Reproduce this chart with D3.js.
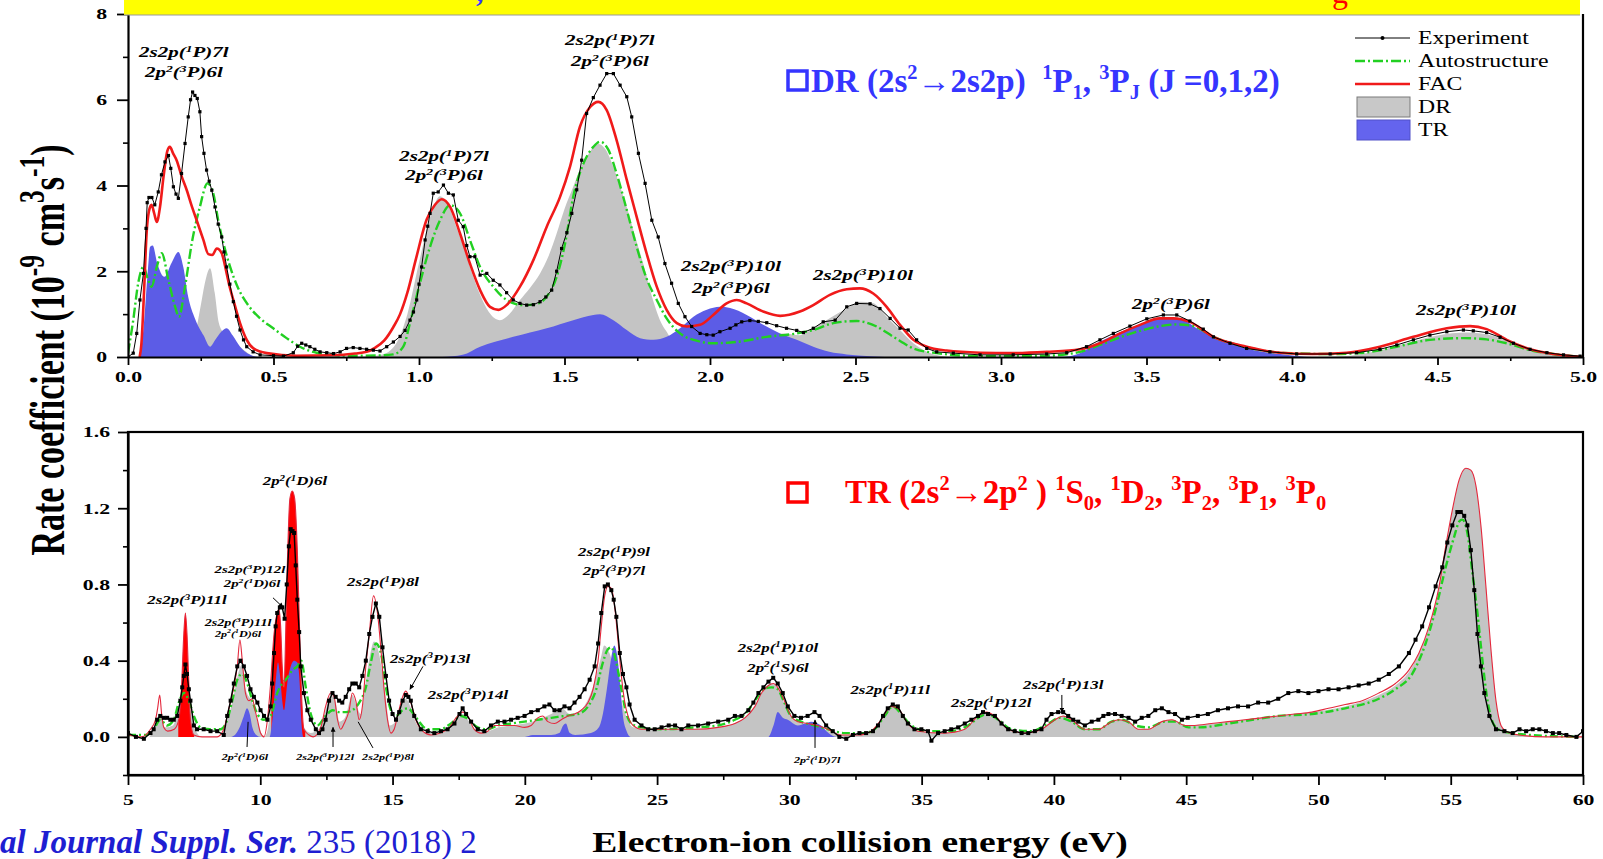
<!DOCTYPE html>
<html>
<head>
<meta charset="utf-8">
<script src="https://cdn.jsdelivr.net/npm/d3@7"></script>
<style>
  html, body { margin: 0; padding: 0; background: #fff; }
  svg { display: block; }
  text { font-family: "Liberation Serif", "Times New Roman", serif; white-space: pre; }
</style>
</head>
<body>
<svg id="chart" width="1603" height="859"></svg>
<script>
// ---------- Upper panel: 0-5 eV (DR, 2s^2 -> 2s2p) ----------
const topXTicks = [0, 0.5, 1, 1.5, 2, 2.5, 3, 3.5, 4, 4.5, 5];
const topXMinor = [0.25, 0.75, 1.25, 1.75, 2.25, 2.75, 3.25, 3.75, 4.25, 4.75];
const topYTicks = [0, 2, 4, 6, 8];
const topYMinor = [1, 3, 5, 7];

const topExperiment = [[0,0],[0.018,0.09],[0.03,0.55],[0.041,1.33],[0.053,1.95],[0.062,3.0],[0.066,3.6],[0.072,3.72],[0.082,3.72],[0.092,3.55],[0.104,3.85],[0.115,4.25],[0.127,4.55],[0.139,4.7],[0.147,4.4],[0.156,3.97],[0.165,3.8],[0.173,3.7],[0.184,4.28],[0.196,4.98],[0.207,5.6],[0.215,6.0],[0.222,6.18],[0.23,6.1],[0.238,6.03],[0.247,5.72],[0.253,5.14],[0.261,4.75],[0.27,4.36],[0.279,4.1],[0.288,3.89],[0.299,3.5],[0.31,3.1],[0.322,2.8],[0.33,2.45],[0.339,2.1],[0.35,1.7],[0.362,1.29],[0.373,0.95],[0.385,0.63],[0.397,0.4],[0.408,0.24],[0.43,0.12],[0.454,0.05],[0.5,0.03],[0.534,0.02],[0.568,0.1],[0.583,0.25],[0.597,0.32],[0.611,0.28],[0.625,0.24],[0.642,0.18],[0.66,0.12],[0.683,0.1],[0.706,0.08],[0.729,0.12],[0.751,0.2],[0.774,0.22],[0.797,0.2],[0.82,0.18],[0.843,0.16],[0.866,0.14],[0.889,0.24],[0.912,0.35],[0.935,0.48],[0.952,0.62],[0.969,0.86],[0.981,1.05],[0.992,1.33],[1.0,1.7],[1.009,2.1],[1.021,2.73],[1.03,3.05],[1.038,3.35],[1.049,3.82],[1.066,3.85],[1.084,4.01],[1.101,3.82],[1.118,3.78],[1.135,3.19],[1.152,3.04],[1.164,2.6],[1.175,2.34],[1.192,2.34],[1.21,1.91],[1.233,1.95],[1.255,1.79],[1.278,1.68],[1.301,1.5],[1.324,1.33],[1.347,1.25],[1.37,1.21],[1.393,1.22],[1.416,1.29],[1.436,1.4],[1.456,1.56],[1.473,2.0],[1.49,2.53],[1.508,2.9],[1.525,3.35],[1.542,3.9],[1.559,4.59],[1.576,5.68],[1.599,6.05],[1.622,6.34],[1.645,6.61],[1.668,6.61],[1.691,6.34],[1.714,6.07],[1.731,5.6],[1.754,4.75],[1.777,4.05],[1.8,3.19],[1.822,2.8],[1.845,2.18],[1.868,1.72],[1.891,1.25],[1.914,0.94],[1.937,0.71],[1.966,0.55],[1.989,0.52],[2.011,0.51],[2.034,0.59],[2.069,0.67],[2.089,0.75],[2.109,0.82],[2.137,0.85],[2.166,0.83],[2.195,0.8],[2.229,0.73],[2.263,0.67],[2.298,0.62],[2.321,0.57],[2.355,0.67],[2.389,0.82],[2.43,0.86],[2.47,1.17],[2.504,1.25],[2.55,1.24],[2.584,1.13],[2.619,0.9],[2.653,0.67],[2.681,0.63],[2.71,0.4],[2.745,0.2],[2.779,0.12],[2.836,0.09],[2.928,0.05],[3.042,0.05],[3.157,0.07],[3.226,0.1],[3.294,0.24],[3.34,0.4],[3.386,0.55],[3.443,0.72],[3.501,0.89],[3.558,0.98],[3.604,0.98],[3.649,0.84],[3.695,0.65],[3.73,0.47],[3.787,0.32],[3.844,0.2],[3.924,0.12],[4.016,0.07],[4.131,0.07],[4.222,0.1],[4.302,0.18],[4.36,0.28],[4.417,0.4],[4.474,0.51],[4.532,0.59],[4.589,0.63],[4.623,0.61],[4.669,0.57],[4.715,0.46],[4.761,0.32],[4.818,0.18],[4.876,0.1],[4.933,0.05],[4.99,0.02]];

const topFAC = [[0.04,0],[0.046,0.3],[0.055,1.5],[0.064,2.9],[0.072,3.4],[0.081,3.55],[0.09,3.35],[0.099,3.15],[0.11,3.5],[0.122,4.2],[0.135,4.8],[0.144,4.9],[0.155,4.75],[0.167,4.59],[0.185,4.2],[0.202,3.89],[0.22,3.5],[0.236,3.19],[0.259,2.73],[0.276,2.4],[0.29,2.38],[0.305,2.53],[0.322,2.42],[0.339,1.95],[0.35,1.62],[0.362,1.33],[0.385,0.79],[0.408,0.4],[0.431,0.2],[0.477,0.09],[0.58,0.03],[0.7,0.04],[0.78,0.08],[0.82,0.12],[0.85,0.22],[0.88,0.38],[0.912,0.7],[0.935,1.0],[0.96,1.5],[0.99,2.3],[1.026,3.2],[1.055,3.55],[1.078,3.68],[1.107,3.5],[1.141,2.88],[1.175,2.18],[1.21,1.56],[1.244,1.17],[1.273,1.1],[1.301,1.21],[1.347,1.64],[1.393,2.26],[1.439,3.04],[1.485,3.74],[1.519,4.44],[1.553,5.37],[1.588,5.83],[1.616,5.95],[1.645,5.76],[1.679,5.06],[1.714,4.13],[1.748,3.27],[1.782,2.42],[1.817,1.64],[1.851,1.1],[1.886,0.79],[1.92,0.71],[1.966,0.75],[2.011,0.98],[2.057,1.25],[2.092,1.33],[2.126,1.25],[2.183,1.06],[2.241,0.96],[2.309,1.06],[2.355,1.21],[2.412,1.45],[2.47,1.58],[2.515,1.6],[2.561,1.48],[2.607,1.17],[2.653,0.75],[2.699,0.4],[2.745,0.24],[2.813,0.15],[2.928,0.1],[3.04,0.09],[3.157,0.12],[3.271,0.18],[3.34,0.32],[3.409,0.55],[3.478,0.75],[3.546,0.9],[3.592,0.9],[3.649,0.82],[3.73,0.47],[3.844,0.24],[3.959,0.1],[4.07,0.07],[4.188,0.1],[4.302,0.24],[4.417,0.47],[4.532,0.67],[4.612,0.72],[4.669,0.65],[4.738,0.4],[4.818,0.18],[4.898,0.07],[5.0,0]];

const topAutostructure = [[0,0.09],[0.018,0.86],[0.035,1.72],[0.053,2.1],[0.067,1.85],[0.081,1.64],[0.099,2.1],[0.116,2.42],[0.139,1.79],[0.162,1.17],[0.175,0.94],[0.196,1.64],[0.219,2.65],[0.247,3.5],[0.273,4.05],[0.293,3.82],[0.31,3.19],[0.328,2.65],[0.351,2.1],[0.379,1.6],[0.413,1.21],[0.454,0.9],[0.499,0.67],[0.545,0.44],[0.591,0.24],[0.648,0.1],[0.763,0.03],[0.877,0.04],[0.912,0.06],[0.946,0.24],[0.969,0.79],[1.003,1.72],[1.038,2.57],[1.072,3.19],[1.107,3.54],[1.141,3.35],[1.175,2.73],[1.21,2.1],[1.255,1.64],[1.301,1.33],[1.358,1.21],[1.404,1.24],[1.439,1.41],[1.473,1.87],[1.502,2.65],[1.53,3.74],[1.565,4.51],[1.599,4.9],[1.622,5.02],[1.651,4.83],[1.679,4.28],[1.714,3.43],[1.748,2.57],[1.782,1.83],[1.817,1.33],[1.851,0.9],[1.897,0.55],[1.954,0.38],[2.011,0.32],[2.103,0.36],[2.195,0.47],[2.298,0.55],[2.355,0.63],[2.424,0.79],[2.504,0.84],[2.573,0.71],[2.63,0.47],[2.699,0.2],[2.779,0.09],[2.928,0.02],[3.157,0.03],[3.271,0.12],[3.34,0.28],[3.409,0.46],[3.478,0.61],[3.546,0.72],[3.604,0.76],[3.661,0.72],[3.73,0.47],[3.844,0.23],[3.959,0.1],[4.13,0.07],[4.245,0.1],[4.36,0.24],[4.474,0.4],[4.589,0.44],[4.669,0.41],[4.738,0.32],[4.818,0.16],[4.898,0.07],[5.0,0]];

const topDR = [[0,0],[0.2,0],[0.23,0.5],[0.25,1.2],[0.265,1.75],[0.282,2.07],[0.298,1.5],[0.312,0.8],[0.33,0.55],[0.36,0.4],[0.4,0.15],[0.44,0],[0.8,0],[0.87,0.05],[0.92,0.3],[0.96,1.0],[1.0,2.2],[1.04,3.3],[1.072,3.75],[1.1,3.55],[1.13,3.0],[1.152,2.6],[1.18,2.0],[1.21,1.45],[1.24,1.05],[1.278,0.86],[1.31,1.0],[1.347,1.33],[1.38,1.6],[1.416,1.95],[1.445,2.35],[1.473,2.88],[1.5,3.45],[1.53,3.97],[1.555,4.4],[1.576,4.66],[1.6,4.9],[1.616,4.97],[1.64,4.85],[1.668,4.43],[1.69,4.0],[1.714,3.5],[1.737,2.95],[1.76,2.42],[1.78,1.95],[1.794,1.56],[1.81,1.2],[1.828,0.86],[1.85,0.6],[1.863,0.47],[1.89,0.4],[1.95,0.3],[2.05,0.35],[2.15,0.45],[2.25,0.55],[2.309,0.51],[2.355,0.67],[2.41,0.9],[2.47,1.13],[2.515,1.29],[2.56,1.26],[2.607,0.94],[2.653,0.63],[2.699,0.32],[2.745,0.12],[2.79,0.03],[2.85,0],[3.2,0],[3.3,0.1],[3.4,0.4],[3.5,0.6],[3.6,0.65],[3.7,0.5],[3.8,0.25],[3.9,0.08],[4.0,0.02],[4.1,0],[4.2,0.03],[4.3,0.15],[4.4,0.33],[4.5,0.5],[4.6,0.57],[4.7,0.48],[4.8,0.22],[4.9,0.07],[5.0,0]];

const topTR = [[0,0],[0.04,0],[0.055,0.8],[0.068,2.0],[0.076,2.57],[0.085,2.6],[0.1,2.2],[0.125,1.87],[0.15,2.2],[0.173,2.45],[0.19,2.1],[0.207,1.4],[0.23,0.9],[0.26,0.5],[0.282,0.24],[0.3,0.4],[0.322,0.6],[0.339,0.67],[0.36,0.5],[0.385,0.24],[0.42,0.05],[0.45,0],[1.08,0],[1.15,0.05],[1.21,0.24],[1.324,0.47],[1.439,0.67],[1.53,0.86],[1.599,0.98],[1.622,1.0],[1.668,0.86],[1.714,0.63],[1.76,0.44],[1.806,0.4],[1.851,0.47],[1.897,0.67],[1.943,0.94],[1.989,1.1],[2.034,1.17],[2.069,1.14],[2.126,0.98],[2.183,0.75],[2.241,0.55],[2.298,0.4],[2.355,0.24],[2.41,0.12],[2.47,0.06],[2.55,0.02],[2.65,0],[3.2,0],[3.271,0.09],[3.328,0.32],[3.386,0.51],[3.443,0.67],[3.501,0.82],[3.558,0.9],[3.6,0.9],[3.63,0.85],[3.672,0.67],[3.73,0.47],[3.844,0.2],[3.96,0.07],[4.07,0],[5.0,0]];

// ---------- Lower panel: 5-60 eV (TR, 2s^2 -> 2p^2) ----------
const botXTicks = [5, 10, 15, 20, 25, 30, 35, 40, 45, 50, 55, 60];
const botXMinor = [7.5, 12.5, 17.5, 22.5, 27.5, 32.5, 37.5, 42.5, 47.5, 52.5, 57.5];
const botYTicks = [0, 0.4, 0.8, 1.2, 1.6];
const botYMinor = [-0.2, 0.2, 0.6, 1.0, 1.4];

const botExperiment = [[5.0,0.02],[5.3,0.0],[5.6,-0.01],[5.85,0.02],[5.97,0.04],[6.1,0.09],[6.22,0.11],[6.35,0.1],[6.48,0.1],[6.6,0.09],[6.73,0.09],[6.86,0.11],[6.98,0.19],[7.05,0.26],[7.11,0.32],[7.17,0.38],[7.23,0.33],[7.3,0.25],[7.36,0.19],[7.49,0.06],[7.61,0.04],[7.86,0.04],[8.12,0.03],[8.37,0.03],[8.62,0.01],[8.75,0.11],[8.88,0.19],[9.0,0.28],[9.13,0.37],[9.25,0.4],[9.38,0.37],[9.5,0.32],[9.63,0.25],[9.76,0.21],[9.89,0.18],[10.01,0.14],[10.14,0.11],[10.27,0.09],[10.39,0.16],[10.45,0.28],[10.52,0.44],[10.58,0.58],[10.64,0.65],[10.74,0.68],[10.83,0.68],[10.92,0.62],[11.0,0.8],[11.08,1.0],[11.15,1.09],[11.22,1.08],[11.28,1.07],[11.34,0.9],[11.4,0.72],[11.47,0.55],[11.53,0.37],[11.65,0.23],[11.78,0.14],[11.91,0.09],[12.1,0.04],[12.22,0.02],[12.35,0.04],[12.47,0.09],[12.6,0.19],[12.73,0.23],[12.85,0.21],[12.98,0.19],[13.1,0.18],[13.23,0.21],[13.36,0.25],[13.48,0.28],[13.61,0.28],[13.74,0.26],[13.86,0.32],[13.99,0.4],[14.12,0.54],[14.24,0.63],[14.37,0.7],[14.5,0.63],[14.62,0.47],[14.75,0.32],[14.87,0.19],[15.0,0.12],[15.13,0.09],[15.25,0.13],[15.38,0.19],[15.5,0.22],[15.6,0.21],[15.69,0.19],[15.82,0.11],[16.07,0.04],[16.33,0.03],[16.58,0.02],[16.83,0.03],[17.08,0.04],[17.34,0.07],[17.53,0.12],[17.65,0.15],[17.78,0.12],[17.97,0.08],[18.22,0.04],[18.47,0.03],[18.72,0.06],[18.98,0.08],[19.23,0.08],[19.48,0.09],[19.73,0.1],[19.99,0.11],[20.24,0.13],[20.49,0.14],[20.74,0.16],[20.93,0.17],[21.12,0.14],[21.31,0.14],[21.5,0.16],[21.69,0.15],[21.88,0.18],[22.07,0.21],[22.26,0.25],[22.45,0.3],[22.64,0.37],[22.77,0.49],[22.89,0.65],[23.02,0.79],[23.14,0.8],[23.27,0.77],[23.36,0.72],[23.46,0.63],[23.59,0.44],[23.71,0.33],[23.84,0.26],[23.96,0.17],[24.15,0.09],[24.41,0.06],[24.66,0.04],[24.91,0.04],[25.17,0.05],[25.44,0.06],[25.68,0.06],[25.92,0.04],[26.18,0.06],[26.55,0.06],[26.93,0.07],[27.31,0.08],[27.69,0.09],[27.94,0.11],[28.19,0.11],[28.45,0.14],[28.64,0.18],[28.83,0.23],[29.02,0.26],[29.21,0.29],[29.39,0.31],[29.56,0.28],[29.75,0.23],[29.94,0.16],[30.19,0.11],[30.44,0.1],[30.69,0.11],[30.95,0.13],[31.14,0.11],[31.39,0.06],[31.64,0.03],[31.89,0.0],[32.15,-0.01],[32.4,0.01],[32.65,0.02],[32.9,0.02],[33.16,0.03],[33.35,0.06],[33.54,0.11],[33.72,0.15],[33.91,0.17],[34.1,0.16],[34.29,0.11],[34.48,0.07],[34.73,0.04],[34.99,0.04],[35.24,0.03],[35.37,-0.02],[35.62,0.02],[35.87,0.03],[36.12,0.04],[36.38,0.05],[36.63,0.07],[36.88,0.09],[37.13,0.11],[37.32,0.13],[37.51,0.12],[37.77,0.11],[38.02,0.07],[38.27,0.04],[38.52,0.03],[38.78,0.02],[39.03,0.02],[39.28,0.03],[39.53,0.04],[39.72,0.09],[39.91,0.12],[40.16,0.13],[40.35,0.13],[40.54,0.11],[40.73,0.09],[40.92,0.08],[41.17,0.06],[41.43,0.08],[41.68,0.09],[41.87,0.11],[42.06,0.12],[42.31,0.12],[42.56,0.11],[42.82,0.1],[43.07,0.08],[43.32,0.1],[43.57,0.11],[43.83,0.14],[44.08,0.15],[44.33,0.13],[44.58,0.12],[44.84,0.09],[45.06,0.1],[45.44,0.11],[45.82,0.12],[46.2,0.14],[46.58,0.15],[46.96,0.16],[47.34,0.16],[47.72,0.18],[48.1,0.18],[48.48,0.2],[48.86,0.23],[49.24,0.24],[49.62,0.23],[50.0,0.24],[50.38,0.25],[50.76,0.25],[51.14,0.26],[51.52,0.27],[51.9,0.28],[52.28,0.3],[52.66,0.33],[53.04,0.37],[53.42,0.44],[53.67,0.51],[53.92,0.58],[54.18,0.68],[54.43,0.79],[54.68,0.89],[54.87,1.02],[55.06,1.11],[55.25,1.18],[55.38,1.18],[55.51,1.16],[55.63,1.11],[55.76,0.98],[55.89,0.77],[56.01,0.54],[56.14,0.37],[56.27,0.23],[56.46,0.11],[56.71,0.04],[57.03,0.03],[57.34,0.02],[57.6,0.04],[57.85,0.03],[58.1,0.04],[58.35,0.04],[58.6,0.03],[58.86,0.02],[59.1,0.02],[59.37,0.01],[59.75,0.0],[60.0,0.03]];

const botFAC = [[5.0,0.01],[5.5,0],[5.85,0.04],[6.04,0.09],[6.12,0.15],[6.2,0.22],[6.27,0.12],[6.35,0.05],[6.5,0.03],[6.75,0.04],[6.92,0.09],[7.02,0.25],[7.11,0.54],[7.17,0.65],[7.23,0.54],[7.3,0.28],[7.36,0.09],[7.49,0.01],[7.8,0],[8.37,0],[8.62,0.04],[8.75,0.11],[8.88,0.19],[9.0,0.26],[9.13,0.37],[9.23,0.51],[9.32,0.4],[9.44,0.23],[9.57,0.19],[9.7,0.2],[9.8,0.14],[9.89,0.09],[10.01,0.02],[10.14,0],[10.27,0.09],[10.39,0.28],[10.52,0.54],[10.64,0.65],[10.71,0.67],[10.77,0.58],[10.83,0.37],[10.9,0.26],[10.96,0.54],[11.02,0.89],[11.12,1.25],[11.21,1.29],[11.3,1.25],[11.4,0.98],[11.49,0.54],[11.57,0.19],[11.65,0.04],[11.84,0.01],[12.0,0],[12.29,0.05],[12.47,0.16],[12.66,0.23],[12.79,0.21],[12.92,0.09],[13.04,0.04],[13.17,0.07],[13.36,0.14],[13.48,0.23],[13.61,0.19],[13.74,0.09],[13.86,0.16],[13.99,0.37],[14.12,0.54],[14.28,0.74],[14.43,0.65],[14.56,0.46],[14.68,0.25],[14.81,0.09],[14.94,0.02],[15.06,0.04],[15.19,0.11],[15.38,0.21],[15.5,0.24],[15.69,0.18],[15.88,0.09],[16.14,0.03],[16.45,0.01],[16.8,0.02],[17.15,0.05],[17.4,0.1],[17.65,0.13],[17.84,0.11],[18.09,0.04],[18.35,0.02],[18.6,0.03],[18.85,0.06],[19.23,0.06],[19.61,0.06],[19.99,0.05],[20.24,0.06],[20.49,0.1],[20.68,0.11],[20.87,0.08],[21.12,0.07],[21.38,0.09],[21.63,0.11],[21.88,0.12],[22.13,0.14],[22.39,0.18],[22.58,0.25],[22.77,0.4],[22.89,0.58],[23.02,0.74],[23.14,0.79],[23.27,0.78],[23.4,0.68],[23.52,0.51],[23.65,0.32],[23.78,0.18],[23.9,0.11],[24.09,0.06],[24.41,0.04],[24.91,0.04],[25.54,0.04],[26.43,0.04],[27.31,0.05],[27.94,0.07],[28.32,0.1],[28.7,0.16],[28.95,0.23],[29.21,0.27],[29.39,0.28],[29.56,0.26],[29.81,0.19],[30.06,0.11],[30.32,0.08],[30.69,0.07],[31.07,0.06],[31.45,0.04],[31.96,0.01],[32.6,0.01],[33.09,0.03],[33.47,0.09],[33.85,0.16],[34.1,0.15],[34.48,0.07],[34.86,0.03],[35.87,0.02],[36.63,0.04],[37.13,0.11],[37.45,0.13],[37.77,0.11],[38.27,0.04],[38.9,0.02],[39.53,0.04],[40.04,0.09],[40.35,0.11],[40.67,0.09],[41.17,0.04],[41.68,0.04],[42.18,0.08],[42.44,0.09],[42.82,0.08],[43.19,0.04],[43.57,0.04],[44.08,0.08],[44.46,0.09],[44.96,0.06],[45.32,0.06],[45.95,0.07],[46.58,0.08],[47.22,0.09],[47.85,0.1],[48.48,0.11],[49.11,0.12],[49.75,0.13],[50.38,0.15],[51.01,0.17],[51.65,0.19],[52.28,0.23],[52.91,0.28],[53.42,0.35],[53.8,0.44],[54.18,0.58],[54.56,0.79],[54.81,1.0],[55.06,1.19],[55.32,1.35],[55.57,1.41],[55.76,1.4],[55.95,1.32],[56.14,1.11],[56.33,0.79],[56.52,0.46],[56.71,0.19],[56.9,0.06],[57.09,0.03],[57.59,0.01],[58.6,0],[60,0]];

const botAutostructure = [[5.0,0.01],[5.7,0.01],[5.97,0.04],[6.22,0.09],[6.48,0.06],[6.73,0.09],[6.92,0.18],[7.11,0.23],[7.3,0.19],[7.49,0.11],[7.74,0.05],[8.1,0.04],[8.5,0.04],[8.75,0.09],[8.94,0.19],[9.13,0.3],[9.32,0.33],[9.51,0.28],[9.7,0.19],[9.89,0.12],[10.14,0.09],[10.39,0.11],[10.64,0.23],[10.83,0.28],[11.02,0.31],[11.21,0.35],[11.4,0.37],[11.55,0.4],[11.72,0.26],[11.91,0.12],[12.16,0.06],[12.47,0.11],[12.73,0.14],[12.98,0.13],[13.23,0.13],[13.48,0.14],[13.74,0.18],[13.99,0.26],[14.18,0.39],[14.37,0.49],[14.56,0.44],[14.75,0.26],[14.94,0.14],[15.13,0.11],[15.38,0.14],[15.57,0.15],[15.8,0.12],[15.95,0.09],[16.33,0.04],[16.8,0.04],[17.21,0.07],[17.59,0.11],[17.8,0.1],[18.22,0.05],[18.6,0.04],[18.98,0.06],[19.48,0.07],[19.99,0.08],[20.49,0.09],[21.0,0.1],[21.5,0.11],[22.01,0.12],[22.39,0.16],[22.7,0.25],[22.95,0.39],[23.14,0.46],[23.27,0.47],[23.46,0.39],[23.65,0.25],[23.84,0.12],[24.03,0.07],[24.41,0.05],[25.2,0.04],[26.43,0.05],[27.31,0.06],[27.94,0.09],[28.32,0.12],[28.7,0.19],[29.02,0.25],[29.33,0.26],[29.56,0.25],[29.81,0.18],[30.06,0.11],[30.44,0.08],[30.95,0.06],[31.45,0.04],[32.1,0.02],[32.85,0.02],[33.22,0.04],[33.6,0.11],[33.91,0.16],[34.23,0.12],[34.61,0.06],[35.24,0.03],[36.12,0.03],[36.75,0.06],[37.26,0.11],[37.51,0.12],[37.89,0.09],[38.4,0.04],[39.15,0.03],[39.78,0.07],[40.22,0.1],[40.67,0.08],[41.17,0.04],[41.68,0.04],[42.18,0.08],[42.56,0.09],[43.07,0.06],[43.57,0.05],[44.2,0.08],[44.58,0.08],[45.09,0.05],[45.5,0.05],[46.58,0.07],[47.5,0.09],[48.48,0.11],[49.75,0.12],[51.01,0.15],[52.28,0.2],[52.91,0.25],[53.54,0.33],[54.05,0.49],[54.43,0.67],[54.81,0.89],[55.13,1.05],[55.32,1.13],[55.44,1.14],[55.63,1.07],[55.82,0.86],[56.01,0.65],[56.2,0.4],[56.39,0.19],[56.65,0.06],[56.96,0.03],[58,0.01],[60,0]];

const botDR = [[5.0,0],[5.8,0],[6.0,0.05],[6.2,0.12],[6.4,0.05],[6.7,0.06],[6.9,0.14],[7.1,0.22],[7.3,0.19],[7.5,0.05],[7.8,0],[8.5,0],[8.75,0.08],[9.0,0.22],[9.2,0.35],[9.3,0.38],[9.45,0.25],[9.7,0.18],[9.9,0.08],[10.15,0],[10.3,0.05],[10.5,0.3],[10.64,0.35],[10.8,0.2],[10.95,0.3],[11.2,0.38],[11.5,0.35],[11.65,0.05],[11.9,0.02],[12.2,0.04],[12.47,0.14],[12.66,0.22],[12.85,0.18],[13.0,0.08],[13.2,0.1],[13.48,0.22],[13.65,0.16],[13.8,0.12],[14.0,0.3],[14.18,0.45],[14.3,0.5],[14.45,0.46],[14.6,0.35],[14.75,0.2],[14.9,0.06],[15.1,0.08],[15.38,0.18],[15.5,0.2],[15.7,0.15],[15.9,0.07],[16.3,0.02],[17.0,0.03],[17.4,0.09],[17.65,0.12],[17.9,0.08],[18.2,0.03],[18.6,0.03],[19.0,0.05],[19.5,0.06],[20.0,0.07],[20.5,0.09],[21.0,0.12],[21.4,0.15],[21.7,0.12],[22.0,0.13],[22.4,0.2],[22.7,0.32],[22.9,0.43],[23.0,0.48],[23.2,0.44],[23.4,0.34],[23.6,0.22],[23.8,0.12],[24.1,0.05],[24.5,0.04],[25.5,0.04],[26.5,0.04],[27.3,0.05],[27.9,0.07],[28.3,0.1],[28.7,0.16],[29.0,0.24],[29.3,0.28],[29.6,0.25],[29.8,0.18],[30.1,0.1],[30.5,0.07],[31.0,0.06],[31.5,0.03],[32.0,0.01],[32.6,0.01],[33.1,0.03],[33.5,0.09],[33.85,0.16],[34.1,0.15],[34.5,0.07],[34.9,0.03],[35.9,0.02],[36.6,0.04],[37.1,0.1],[37.45,0.13],[37.8,0.1],[38.3,0.04],[38.9,0.02],[39.5,0.04],[40.0,0.09],[40.35,0.11],[40.7,0.09],[41.2,0.04],[41.7,0.04],[42.2,0.08],[42.45,0.09],[42.8,0.08],[43.2,0.04],[43.6,0.04],[44.1,0.08],[44.5,0.09],[45.0,0.06],[46.0,0.07],[47.2,0.09],[48.5,0.11],[49.75,0.13],[51.0,0.16],[52.28,0.22],[52.91,0.27],[53.42,0.34],[53.8,0.44],[54.18,0.58],[54.56,0.79],[54.81,1.0],[55.06,1.19],[55.32,1.35],[55.57,1.41],[55.76,1.4],[55.95,1.32],[56.14,1.11],[56.33,0.79],[56.52,0.46],[56.71,0.19],[56.9,0.06],[57.1,0.03],[57.6,0.01],[58.6,0],[60,0]];

const botTR = [[5,0],[8.9,0],[9.1,0.02],[9.25,0.06],[9.38,0.11],[9.5,0.15],[9.6,0.12],[9.7,0.05],[9.85,0.01],[10.0,0],[10.35,0],[10.45,0.08],[10.52,0.19],[10.6,0.32],[10.67,0.39],[10.74,0.33],[10.83,0.19],[10.9,0.14],[10.96,0.2],[11.02,0.28],[11.15,0.37],[11.28,0.4],[11.4,0.39],[11.49,0.28],[11.55,0.09],[11.63,0],[20,0],[20.3,0.01],[21.0,0.01],[21.3,0.02],[21.45,0.06],[21.55,0.07],[21.7,0.02],[21.9,0.01],[22.5,0.02],[22.8,0.05],[22.95,0.12],[23.1,0.25],[23.25,0.4],[23.38,0.48],[23.5,0.42],[23.6,0.28],[23.7,0.12],[23.85,0.03],[24.0,0],[29.2,0],[29.4,0.06],[29.56,0.13],[29.75,0.1],[29.94,0.09],[30.32,0.06],[30.6,0.07],[30.82,0.08],[31.2,0.06],[31.4,0.03],[31.58,0.01],[31.8,0],[60,0]];

// Energy windows where the narrow FAC resonances are shown filled
const facFilledWindows = [[6.9, 7.5], [10.42, 11.7]];

// Resonance labels: [energy, rate, text]
const topLabels = [
  [0.192, 7.0, "2s2p(^{1}P)7l"], [0.192, 6.53, "2p^{2}(^{3}P)6l"],
  [1.086, 4.57, "2s2p(^{1}P)7l"], [1.086, 4.13, "2p^{2}(^{3}P)6l"],
  [1.656, 7.27, "2s2p(^{1}P)7l"], [1.656, 6.78, "2p^{2}(^{3}P)6l"],
  [2.072, 2.0, "2s2p(^{3}P)10l"], [2.072, 1.49, "2p^{2}(^{3}P)6l"],
  [2.526, 1.79, "2s2p(^{3}P)10l"],
  [3.584, 1.12, "2p^{2}(^{3}P)6l"],
  [4.598, 0.98, "2s2p(^{3}P)10l"]
];
const botLabels = [
  [7.23, 0.695, "2s2p(^{3}P)11l", 12.5],
  [11.31, 1.32, "2p^{2}(^{1}D)6l", 12.5],
  [9.61, 0.858, "2s2p(^{3}P)12l", 11], [9.69, 0.784, "2p^{2}(^{1}D)6l", 11],
  [9.16, 0.584, "2s2p(^{3}P)11l", 10.5], [9.16, 0.526, "2p^{2}(^{1}D)6l", 9],
  [14.64, 0.79, "2s2p(^{1}P)8l", 12.5],
  [16.42, 0.39, "2s2p(^{3}P)13l", 12.5],
  [17.85, 0.2, "2s2p(^{3}P)14l", 12.5],
  [23.37, 0.947, "2s2p(^{1}P)9l", 12.5], [23.37, 0.847, "2p^{2}(^{3}P)7l", 12.5],
  [29.57, 0.447, "2s2p(^{1}P)10l", 12.5], [29.57, 0.342, "2p^{2}(^{1}S)6l", 12.5],
  [33.81, 0.226, "2s2p(^{1}P)11l", 12.5],
  [37.63, 0.158, "2s2p(^{1}P)12l", 12.5],
  [40.35, 0.253, "2s2p(^{1}P)13l", 12.5],
  [9.42, -0.121, "2p^{2}(^{1}D)6l", 9],
  [12.45, -0.121, "2s2p(^{3}P)12l", 9],
  [14.83, -0.121, "2s2p(^{1}P)8l", 9],
  [31.05, -0.137, "2p^{2}(^{1}D)7l", 9]
];
// Leader lines from labels to resonances: [x1, y1, x2, y2, arrowhead]
const botLeaders = [
  [10.48, 0.73, 10.86, 0.68, true],
  [16.15, 0.37, 15.66, 0.25, true],
  [40.3, 0.22, 40.3, 0.13, true],
  [9.5, -0.053, 9.54, 0.079, false],
  [12.75, -0.053, 12.75, 0.05, true],
  [14.26, -0.058, 13.7, 0.079, false],
  [30.97, -0.058, 30.97, 0.089, true]
];

const legendNames = ["Experiment", "Autostructure", "FAC", "DR", "TR"];

// ---------- drawing ----------
const svg = d3.select("#chart");
const FONT_STRETCH = 1.45;

const xT = d3.scaleLinear().domain([0, 5]).range([128, 1583]);
const yT = d3.scaleLinear().domain([0, 8]).range([357, 14]);
const xB = d3.scaleLinear().domain([5, 60]).range([128, 1583]);
const yB = d3.scaleLinear().domain([-0.2, 1.6]).range([775, 432]);

const COL = {
  dr: "#c4c4c4", tr: "#5c5ce6", fac: "#f01a1a", facThin: "#e4283c",
  auto: "#22d022", exp: "#000"
};

// text with ^{sup} and _{sub} markup
function richText(parent, x, y, src, o) {
  const t = parent.append("text")
    .attr("transform", `translate(${x},${y}) scale(${o.sx || 1},${o.sy || 1})`)
    .attr("text-anchor", o.anchor || "start")
    .attr("fill", o.color || "#000")
    .style("font-size", o.size + "px")
    .style("font-weight", o.weight || "normal")
    .style("font-style", o.style || "normal");
  const re = /(\^\{[^}]*\}|_\{[^}]*\}|[^^_]+)/g;
  let m, shift = 0;
  while ((m = re.exec(src))) {
    let s = m[0], kind = "n";
    if (s.startsWith("^{")) { kind = "sup"; s = s.slice(2, -1); }
    else if (s.startsWith("_{")) { kind = "sub"; s = s.slice(2, -1); }
    const target = kind === "sup" ? -o.size * (o.supRaise || 0.38) : kind === "sub" ? o.size * 0.22 : 0;
    const ts = t.append("tspan").attr("dy", target - shift).text(s);
    if (kind !== "n") ts.style("font-size", (o.size * (o.supScale || 0.62)) + "px");
    shift = target;
  }
  return t;
}

const defs = svg.append("defs");
function clipRect(id, x0, y0, x1, y1) {
  defs.append("clipPath").attr("id", id).append("rect")
    .attr("x", x0).attr("y", y0).attr("width", x1 - x0).attr("height", y1 - y0);
}
clipRect("clipTop", xT.range()[0], yT.range()[1], xT.range()[1], yT.range()[0]);
clipRect("clipBot", xB.range()[0], yB.range()[1], xB.range()[1], yB.range()[0]);
const facClip = defs.append("clipPath").attr("id", "clipFacFill");
facFilledWindows.forEach(([a, b]) => {
  facClip.append("rect").attr("x", xB(a)).attr("y", yB.range()[1])
    .attr("width", xB(b) - xB(a)).attr("height", yB.range()[0] - yB.range()[1]);
});

function drawPanel(cfg) {
  const { x, y, clip } = cfg;
  const g = svg.append("g").attr("clip-path", `url(#${clip})`);
  const area = d3.area().x(d => x(d[0])).y0(y(0)).y1(d => y(d[1])).curve(d3.curveMonotoneX);
  const smooth = d3.line().x(d => x(d[0])).y(d => y(d[1])).curve(d3.curveMonotoneX);
  const straight = d3.line().x(d => x(d[0])).y(d => y(d[1]));

  g.append("path").datum(cfg.dr).attr("d", area).attr("fill", COL.dr);
  if (cfg.facFill) {
    g.append("g").attr("clip-path", "url(#clipFacFill)")
      .append("path").datum(cfg.fac).attr("d", area).attr("fill", "#ff0000");
  }
  g.append("path").datum(cfg.tr).attr("d", area).attr("fill", COL.tr);

  g.append("path").datum(cfg.auto).attr("d", smooth).attr("fill", "none")
    .attr("stroke", COL.auto).attr("stroke-width", cfg.autoWidth)
    .attr("stroke-dasharray", cfg.autoDash);
  g.append("path").datum(cfg.fac).attr("d", smooth).attr("fill", "none")
    .attr("stroke", cfg.facColor).attr("stroke-width", cfg.facWidth);

  g.append("path").datum(cfg.exp).attr("d", straight).attr("fill", "none")
    .attr("stroke", COL.exp).attr("stroke-width", cfg.expWidth);
  g.selectAll("rect.pt").data(cfg.exp).join("rect").attr("class", "pt")
    .attr("x", d => x(d[0]) - cfg.ms / 2).attr("y", d => y(d[1]) - cfg.ms / 2)
    .attr("width", cfg.ms).attr("height", cfg.ms).attr("fill", COL.exp);
}

drawPanel({ x: xT, y: yT, clip: "clipTop", dr: topDR, tr: topTR, fac: topFAC, auto: topAutostructure,
  exp: topExperiment, facColor: COL.fac, facWidth: 2.6, autoWidth: 2.4, autoDash: "10,3,2,3",
  expWidth: 1, ms: 3.2, facFill: false });
drawPanel({ x: xB, y: yB, clip: "clipBot", dr: botDR, tr: botTR, fac: botFAC, auto: botAutostructure,
  exp: botExperiment, facColor: COL.facThin, facWidth: 1.1, autoWidth: 2.4, autoDash: "8,3,2,3",
  expWidth: 1.4, ms: 4, facFill: true });

// ---------- axes ----------
function styleAxis(sel, stretch, size) {
  sel.select(".domain").attr("stroke-width", 2.2).attr("stroke", "#000");
  sel.selectAll(".tick line").attr("stroke-width", 1.8).attr("stroke", "#000");
  sel.selectAll(".tick text")
    .style("font-family", '"Liberation Serif", serif').style("font-weight", "bold")
    .style("font-size", size + "px").attr("fill", "#000")
    .each(function () {
      const t = d3.select(this);
      const xv = +t.attr("x") || 0;
      t.attr("x", xv / stretch).attr("transform", `scale(${stretch},1)`);
    });
}
function minorAxis(axis, tr) {
  const s = svg.append("g").attr("transform", tr).call(axis);
  s.select(".domain").remove();
  s.selectAll(".tick line").attr("stroke-width", 1.6).attr("stroke", "#000");
}

// upper panel axes
svg.append("g").attr("transform", `translate(0,${yT(0)})`)
  .call(d3.axisBottom(xT).tickValues(topXTicks).tickFormat(d3.format(".1f")).tickSize(8).tickSizeOuter(0).tickPadding(6))
  .call(s => styleAxis(s, FONT_STRETCH, 15));
minorAxis(d3.axisBottom(xT).tickValues(topXMinor).tickFormat("").tickSize(4), `translate(0,${yT(0)})`);
svg.append("g").attr("transform", `translate(${xT(0)},0)`)
  .call(d3.axisLeft(yT).tickValues(topYTicks).tickFormat(d3.format("d")).tickSize(11).tickSizeOuter(0).tickPadding(10))
  .call(s => styleAxis(s, FONT_STRETCH, 15));
minorAxis(d3.axisLeft(yT).tickValues(topYMinor).tickFormat("").tickSize(5), `translate(${xT(0)},0)`);
svg.append("line").attr("x1", xT(5)).attr("x2", xT(5)).attr("y1", yT(8)).attr("y2", yT(0))
  .attr("stroke", "#000").attr("stroke-width", 2.2);

// lower panel axes and frame
svg.append("rect").attr("x", xB(5)).attr("y", yB(1.6)).attr("width", xB(60) - xB(5))
  .attr("height", yB(-0.2) - yB(1.6)).attr("fill", "none").attr("stroke", "#000").attr("stroke-width", 2.2);
svg.append("g").attr("transform", `translate(0,${yB(-0.2)})`)
  .call(d3.axisBottom(xB).tickValues(botXTicks).tickFormat(d3.format("d")).tickSize(10).tickSizeOuter(0).tickPadding(9))
  .call(s => styleAxis(s, FONT_STRETCH, 15));
minorAxis(d3.axisBottom(xB).tickValues(botXMinor).tickFormat("").tickSize(5), `translate(0,${yB(-0.2)})`);
svg.append("g").attr("transform", `translate(${xB(5)},0)`)
  .call(d3.axisLeft(yB).tickValues(botYTicks).tickFormat(d3.format(".1f")).tickSize(10).tickSizeOuter(0).tickPadding(8))
  .call(s => styleAxis(s, FONT_STRETCH, 15));
minorAxis(d3.axisLeft(yB).tickValues(botYMinor).tickFormat("").tickSize(5), `translate(${xB(5)},0)`);

// ---------- resonance labels ----------
topLabels.forEach(([ex, ry, s]) => {
  richText(svg, xT(ex), yT(ry), s, { size: 14, sx: 1.5, anchor: "middle", weight: "bold", style: "italic", supScale: 0.65 });
});
botLabels.forEach(([ex, ry, s, fs]) => {
  richText(svg, xB(ex), yB(ry), s, { size: fs, sx: 1.35, anchor: "middle", weight: "bold", style: "italic", supScale: 0.65 });
});
defs.append("marker").attr("id", "arrowHead").attr("viewBox", "0 0 10 10").attr("refX", 9).attr("refY", 5)
  .attr("markerWidth", 5).attr("markerHeight", 5).attr("orient", "auto")
  .append("path").attr("d", "M0,0 L10,5 L0,10 z").attr("fill", "#000");
botLeaders.forEach(([x1, y1, x2, y2, arrow]) => {
  svg.append("line").attr("x1", xB(x1)).attr("y1", yB(y1)).attr("x2", xB(x2)).attr("y2", yB(y2))
    .attr("stroke", "#000").attr("stroke-width", 1)
    .attr("marker-end", arrow ? "url(#arrowHead)" : null);
});

// ---------- legend ----------
const lg = svg.append("g");
legendNames.forEach((name, i) => {
  const cy = 38 + i * 23;
  const x0 = 1355, x1 = 1410;
  if (name === "Experiment") {
    lg.append("line").attr("x1", x0).attr("x2", x1).attr("y1", cy).attr("y2", cy).attr("stroke", "#000").attr("stroke-width", 1);
    lg.append("circle").attr("cx", (x0 + x1) / 2).attr("cy", cy).attr("r", 2).attr("fill", "#000");
  } else if (name === "Autostructure") {
    lg.append("line").attr("x1", x0).attr("x2", x1).attr("y1", cy).attr("y2", cy)
      .attr("stroke", COL.auto).attr("stroke-width", 2.4).attr("stroke-dasharray", "10,3,2,3");
  } else if (name === "FAC") {
    lg.append("line").attr("x1", x0).attr("x2", x1).attr("y1", cy).attr("y2", cy).attr("stroke", COL.fac).attr("stroke-width", 2.6);
  } else {
    lg.append("rect").attr("x", x0 + 2).attr("y", cy - 10).attr("width", x1 - x0 - 2).attr("height", 20)
      .attr("fill", name === "DR" ? "#c8c8c8" : "#6464ee")
      .attr("stroke", name === "DR" ? "#7a7a7a" : "#5050c8").attr("stroke-width", 1);
  }
  richText(lg, 1418, cy + 6, name, { size: 18, sx: 1.32 });
});

// ---------- process annotations ----------
svg.append("rect").attr("x", 788).attr("y", 71).attr("width", 19).attr("height", 19)
  .attr("fill", "none").attr("stroke", "#3535ff").attr("stroke-width", 3.5);
richText(svg, 811, 92, "DR (2s^{2}\u21922s2p)  ^{1}P_{1}, ^{3}P_{J} (J =0,1,2)",
  { size: 33, weight: "bold", color: "#3535ff", supScale: 0.62, supRaise: 0.4 });
svg.append("rect").attr("x", 788).attr("y", 483).attr("width", 19).attr("height", 19)
  .attr("fill", "none").attr("stroke", "#ff0000").attr("stroke-width", 3.5);
richText(svg, 845, 503, "TR (2s^{2}\u21922p^{2} ) ^{1}S_{0}, ^{1}D_{2}, ^{3}P_{2}, ^{3}P_{1}, ^{3}P_{0}",
  { size: 33, weight: "bold", color: "#ff0000", supScale: 0.62, supRaise: 0.4 });

// ---------- axis titles ----------
richText(svg, 0, 0, "Rate coefficient (10^{-9} cm^{3}s^{-1})",
  { size: 34, weight: "bold", anchor: "middle", supScale: 0.75, supRaise: 0.42 })
  .attr("transform", "translate(64,350) rotate(-90) scale(1,1.4)");
richText(svg, 860, 852, "Electron-ion collision energy (eV)", { size: 30, weight: "bold", anchor: "middle", sx: 1.25 });

// ---------- citation ----------
const cite = svg.append("text").attr("x", 0).attr("y", 853).attr("fill", "#1e1ed2").style("font-size", "33px");
cite.append("tspan").style("font-weight", "bold").style("font-style", "italic").text("al Journal Suppl. Ser.");
cite.append("tspan").text(" 235 (2018) 2");

// ---------- title bar ----------
svg.append("rect").attr("x", 124).attr("y", 0).attr("width", 1456).attr("height", 15).attr("fill", "#ffff00");
svg.append("line").attr("x1", 124).attr("x2", 1580).attr("y1", 15).attr("y2", 15).attr("stroke", "#9a9a9a").attr("stroke-width", 1.2);
svg.append("text").attr("x", 476).attr("y", 1).attr("fill", "#3535ff").style("font-size", "30px").style("font-weight", "bold").text(",");
svg.append("text").attr("x", 1332).attr("y", 3).attr("fill", "#ff0000").style("font-size", "32px").text("g");
</script>
</body>
</html>
